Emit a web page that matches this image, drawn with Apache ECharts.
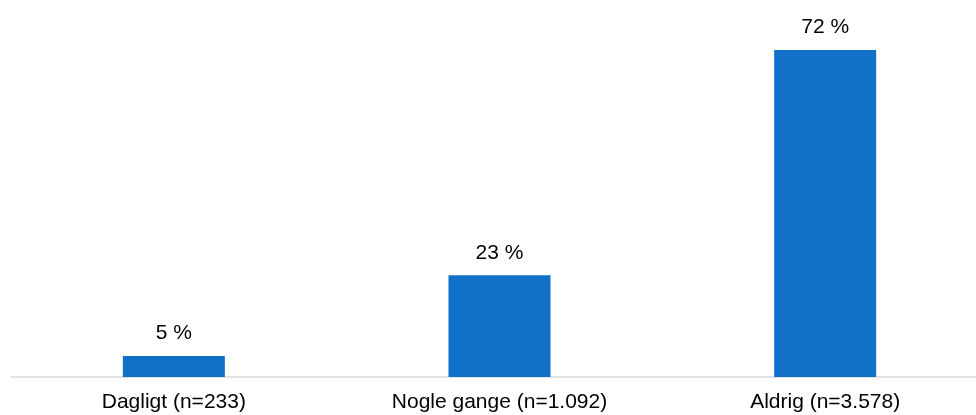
<!DOCTYPE html>
<html><head><meta charset="utf-8">
<script src="https://cdn.jsdelivr.net/npm/echarts@6/dist/echarts.min.js"></script>
<style>html,body{margin:0;padding:0;background:#fff}#c{width:976px;height:415px}</style>
</head><body><div id="c"></div>
<script>
const categories = ['Dagligt (n=233)', 'Nogle gange (n=1.092)', 'Aldrig (n=3.578)'];
const values = [4.6, 22.4, 72];
const valueLabels = ['5 %', '23 %', '72 %'];

const chart = echarts.init(document.getElementById('c'), null, {renderer: 'canvas'});
chart.setOption({
  animation: false,
  grid: {left: 11, width: 977, top: 50, bottom: 38, containLabel: false, outerBoundsMode: 'none'},
  xAxis: {
    type: 'category', data: categories,
    axisLine: {lineStyle: {color: '#d9d9d9', width: 1.5}},
    axisTick: {show: false},
    axisLabel: {color: '#000', fontFamily: 'Liberation Sans, Arial', fontSize: 21, margin: 15}
  },
  yAxis: {type: 'value', min: 0, max: 72, show: false, splitLine: {show: false}},
  series: [{
    type: 'bar', data: values, barWidth: 102,
    itemStyle: {color: '#1170c8'},
    label: {show: true, position: 'top', distance: 12, formatter: p => valueLabels[p.dataIndex], color: '#000', fontFamily: 'Liberation Sans, Arial', fontSize: 21}
  }]
});
</script></body></html>
